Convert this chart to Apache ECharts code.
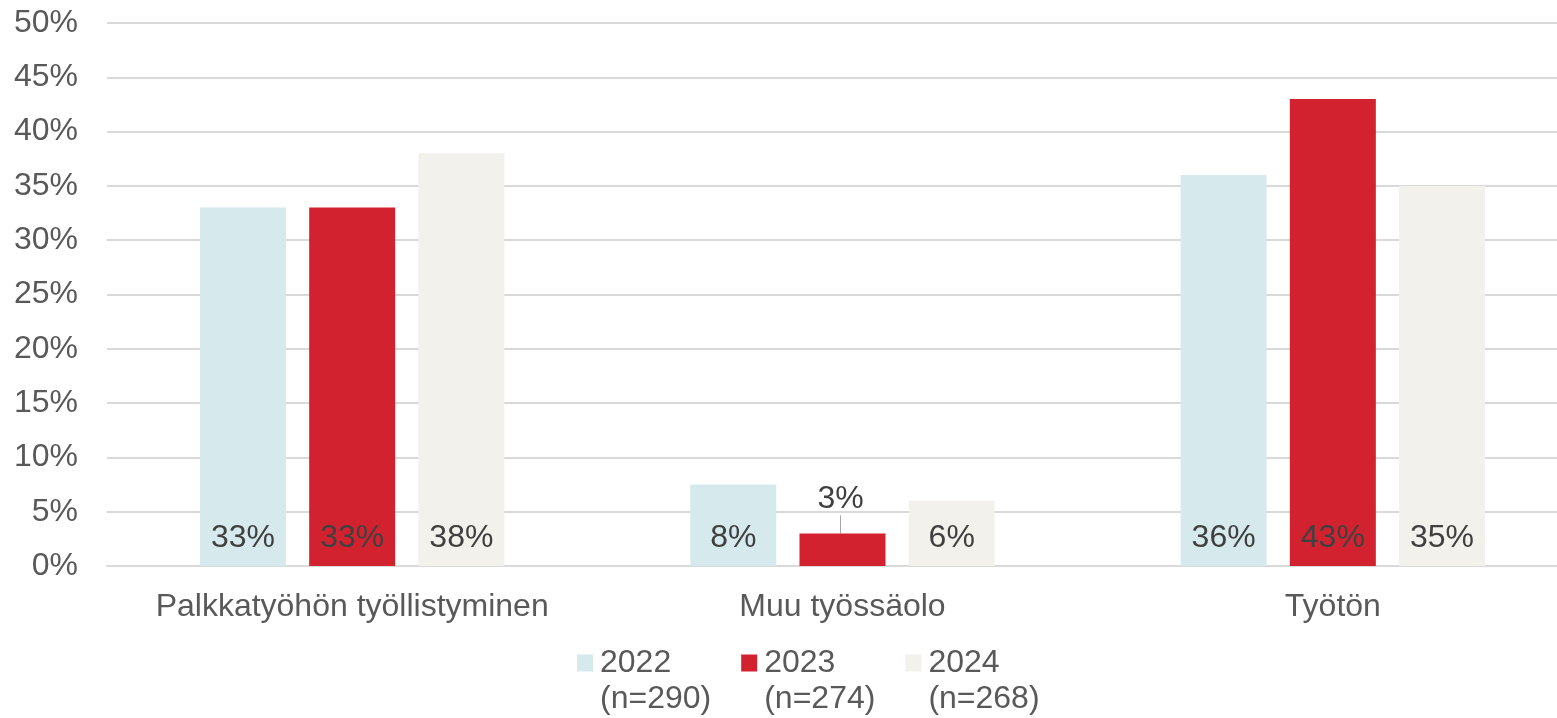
<!DOCTYPE html>
<html>
<head>
<meta charset="utf-8">
<script src="https://cdn.jsdelivr.net/npm/echarts@6/dist/echarts.min.js"></script>
<style>
  html, body { margin: 0; padding: 0; background: #fff; overflow: hidden; width: 1557px; height: 718px; }
  #chart { width: 1578px; height: 718px; }
</style>
</head>
<body>
<div id="chart"></div>
<script>
const categories = ["Palkkatyöhön työllistyminen", "Muu työssäolo", "Työtön"];
const seriesNames = ["2022", "2023", "2024"];
const sampleSizes = ["(n=290)", "(n=274)", "(n=268)"];
const values2022 = [33, 7.5, 36];
const values2023 = [33, 3, 43];
const values2024 = [38, 6, 35];
const yTicks = [0, 5, 10, 15, 20, 25, 30, 35, 40, 45, 50];

const colors = ["#d6eaee", "#d3222f", "#f2f1ec"];
const font = "'Liberation Sans', Arial, sans-serif";

function makeSeries(name, values, color, sIdx) {
  return {
    name: name,
    type: "bar",
    barWidth: 86,
    barGap: "27%",
    itemStyle: { color: color },
    label: {
      show: true,
      position: "insideBottom",
      distance: 12,
      color: "#404040",
      fontFamily: font,
      fontSize: 32,
      lineHeight: 32,
      formatter: (p) => Math.round(p.value) + "%"
    },
    data: values.map((v, i) => {
      // the small 2023 bar carries its label above, with a leader line
      if (sIdx === 1 && i === 1) {
        return {
          value: v,
          label: { position: "top", distance: 4 },
          labelLine: { show: true, lineStyle: { color: "#a6a6a6", width: 1 } }
        };
      }
      return v;
    })
  };
}

const chart = echarts.init(document.getElementById("chart"));
chart.setOption({
  animation: false,
  grid: { left: 107, right: 0, top: 23, bottom: 152, containLabel: false },
  legend: {
    left: 577,
    top: 609,
    padding: 0,
    itemWidth: 16,
    itemHeight: 17,
    itemGap: 30,
    icon: "rect",
    data: seriesNames,
    formatter: (name) => "\n" + name + "\n" + sampleSizes[seriesNames.indexOf(name)],
    textStyle: {
      color: "#595959",
      fontFamily: font,
      fontSize: 32,
      lineHeight: 36,
      padding: [0, 0, 0, 2]
    }
  },
  xAxis: {
    type: "category",
    data: categories,
    axisLine: { lineStyle: { color: "#d9d9d9", width: 2 } },
    axisTick: { show: false },
    axisLabel: { color: "#595959", fontFamily: font, fontSize: 32, margin: 25, interval: 0 }
  },
  yAxis: {
    type: "value",
    min: yTicks[0],
    max: yTicks[yTicks.length - 1],
    interval: 5,
    axisLine: { show: false },
    axisTick: { show: false },
    splitLine: { lineStyle: { color: "#d9d9d9", width: 2 } },
    axisLabel: { color: "#595959", fontFamily: font, fontSize: 32, margin: 29, formatter: "{value}%" }
  },
  labelLayout: (p) => {
    if (p.seriesIndex === 1 && p.dataIndex === 1) {
      return { dy: -14, dx: -2 };
    }
  },
  series: [
    makeSeries(seriesNames[0], values2022, colors[0], 0),
    makeSeries(seriesNames[1], values2023, colors[1], 1),
    makeSeries(seriesNames[2], values2024, colors[2], 2)
  ]
});
</script>
</body>
</html>
